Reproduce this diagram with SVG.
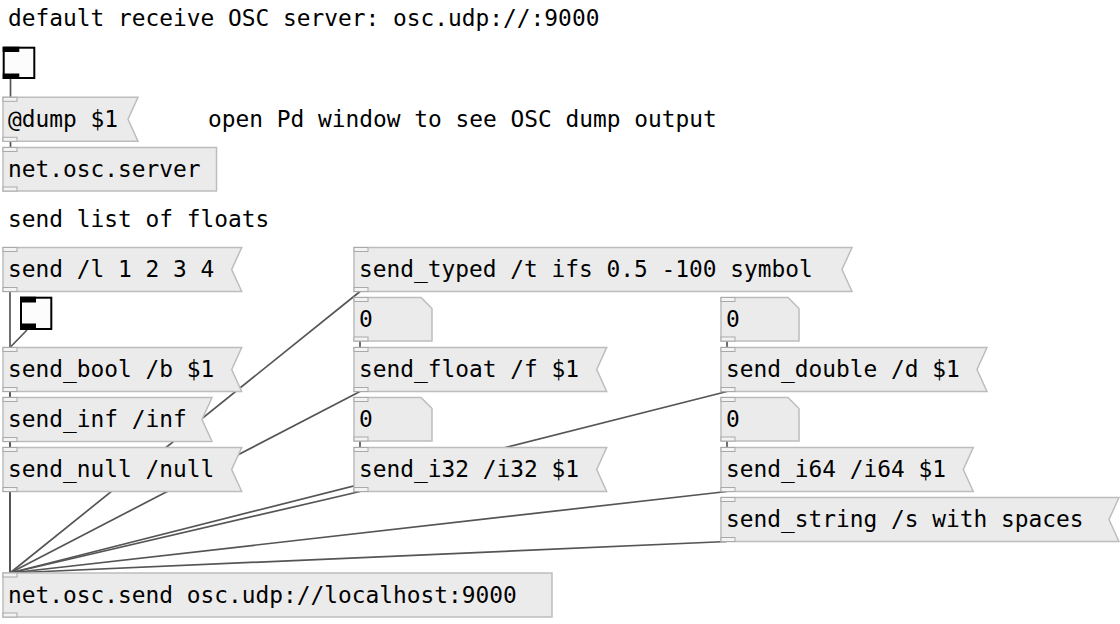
<svg xmlns="http://www.w3.org/2000/svg" width="1120" height="624" viewBox="0 0 1120 624">
<style>
.bg{fill:#ffffff}
.box{fill:#ebebeb;stroke:#bdbdbd;stroke-width:1.5}
.io{fill:#f3f3f3;stroke:#a9a9a9;stroke-width:1}
.tgl{fill:#fcfcfc;stroke:#000;stroke-width:2}
.tio{fill:#000}
.c{stroke:#555;stroke-width:1.7;fill:none}
text{font-family:"DejaVu Sans Mono","Liberation Mono",monospace;font-size:22.85px;fill:#000}
</style>
<rect class="bg" x="0" y="0" width="1120" height="624"/>
<g id="connectors">
<line class="c" x1="10.5" y1="79" x2="10.5" y2="97"/>
<line class="c" x1="10.5" y1="141" x2="10.5" y2="148"/>
<line class="c" x1="10" y1="291.5" x2="10" y2="573"/>
<line class="c" x1="10" y1="391.5" x2="10" y2="573"/>
<line class="c" x1="10" y1="441.5" x2="10" y2="573"/>
<line class="c" x1="10" y1="491.5" x2="10" y2="573"/>
<line class="c" x1="27" y1="330" x2="10" y2="347.5"/>
<line class="c" x1="360" y1="291.5" x2="10" y2="573"/>
<line class="c" x1="360" y1="341" x2="360" y2="347.5"/>
<line class="c" x1="360" y1="391.5" x2="10" y2="573"/>
<line class="c" x1="360" y1="441" x2="360" y2="447.5"/>
<line class="c" x1="360" y1="491.5" x2="10" y2="573"/>
<line class="c" x1="727" y1="341" x2="727" y2="347.5"/>
<line class="c" x1="727" y1="391.5" x2="10" y2="573"/>
<line class="c" x1="727" y1="441" x2="727" y2="447.5"/>
<line class="c" x1="727" y1="491.5" x2="10" y2="573"/>
<line class="c" x1="727" y1="541.5" x2="10" y2="573"/>
</g>
<g id="comment1"><text x="8" y="25.5">default receive OSC server: osc.udp://:9000</text></g>
<g id="comment2"><text x="208" y="126.5">open Pd window to see OSC dump output</text></g>
<g id="comment3"><text x="8" y="226.5">send list of floats</text></g>
<g id="toggle1">
<rect class="tgl" x="3.7" y="47.7" width="30.6" height="30.3"/>
<rect class="tio" x="2.7" y="46.7" width="16.6" height="5.3"/>
<rect class="tio" x="2.7" y="73.5" width="16.6" height="5.5"/>
</g>
<g id="msg_dump">
<path class="box" d="M3 97.3H138L128 119.3L138 141.3H3Z"/>
<rect class="io" x="3" y="97.3" width="14" height="4"/>
<rect class="io" x="3" y="137.3" width="14" height="4"/>
<text x="8" y="126.5">@dump $1</text>
</g>
<g id="obj_server">
<rect class="box" x="3" y="147.5" width="213.5" height="43.5"/>
<rect class="io" x="3" y="147.5" width="14" height="4"/>
<rect class="io" x="3" y="187" width="14" height="4"/>
<text x="8" y="177">net.osc.server</text>
</g>
<g id="msg_list">
<path class="box" d="M3 247.5H241.7L231.7 269.5L241.7 291.5H3Z"/>
<rect class="io" x="3" y="247.5" width="14" height="4"/>
<rect class="io" x="3" y="287.5" width="14" height="4"/>
<text x="8" y="277">send /l 1 2 3 4</text>
</g>
<g id="toggle2">
<rect class="tgl" x="21" y="297.7" width="30.3" height="31.3"/>
<rect class="tio" x="20" y="296.7" width="16" height="5.8"/>
<rect class="tio" x="20" y="323.5" width="16" height="6.5"/>
</g>
<g id="msg_bool">
<path class="box" d="M3 347.5H241.7L231.7 369.5L241.7 391.5H3Z"/>
<rect class="io" x="3" y="347.5" width="14" height="4"/>
<rect class="io" x="3" y="387.5" width="14" height="4"/>
<text x="8" y="377">send_bool /b $1</text>
</g>
<g id="msg_inf">
<path class="box" d="M3 397.5H212L202 419.5L212 441.5H3Z"/>
<rect class="io" x="3" y="397.5" width="14" height="4"/>
<rect class="io" x="3" y="437.5" width="14" height="4"/>
<text x="8" y="427">send_inf /inf</text>
</g>
<g id="msg_null">
<path class="box" d="M3 447.5H241.7L231.7 469.5L241.7 491.5H3Z"/>
<rect class="io" x="3" y="447.5" width="14" height="4"/>
<rect class="io" x="3" y="487.5" width="14" height="4"/>
<text x="8" y="477">send_null /null</text>
</g>
<g id="obj_send">
<rect class="box" x="3" y="573" width="549" height="44"/>
<rect class="io" x="3" y="573" width="14" height="4"/>
<rect class="io" x="3" y="613" width="14" height="4"/>
<text x="8" y="602.5">net.osc.send osc.udp://localhost:9000</text>
</g>
<g id="msg_typed">
<path class="box" d="M354 247.5H852L842 269.5L852 291.5H354Z"/>
<rect class="io" x="354" y="247.5" width="14" height="4"/>
<rect class="io" x="354" y="287.5" width="14" height="4"/>
<text x="359" y="277">send_typed /t ifs 0.5 -100 symbol</text>
</g>
<g id="num_f">
<path class="box" d="M354 297.5H421L432 308.5V341H354Z"/>
<rect class="io" x="354" y="297.5" width="14" height="4"/>
<rect class="io" x="354" y="337" width="14" height="4"/>
<text x="359" y="327">0</text>
</g>
<g id="msg_float">
<path class="box" d="M354 347.5H606.7L596.7 369.5L606.7 391.5H354Z"/>
<rect class="io" x="354" y="347.5" width="14" height="4"/>
<rect class="io" x="354" y="387.5" width="14" height="4"/>
<text x="359" y="377">send_float /f $1</text>
</g>
<g id="num_i32">
<path class="box" d="M354 397.5H421L432 408.5V441H354Z"/>
<rect class="io" x="354" y="397.5" width="14" height="4"/>
<rect class="io" x="354" y="437" width="14" height="4"/>
<text x="359" y="427">0</text>
</g>
<g id="msg_i32">
<path class="box" d="M354 447.5H606.7L596.7 469.5L606.7 491.5H354Z"/>
<rect class="io" x="354" y="447.5" width="14" height="4"/>
<rect class="io" x="354" y="487.5" width="14" height="4"/>
<text x="359" y="477">send_i32 /i32 $1</text>
</g>
<g id="num_d">
<path class="box" d="M721 297.5H788L799 308.5V341H721Z"/>
<rect class="io" x="721" y="297.5" width="14" height="4"/>
<rect class="io" x="721" y="337" width="14" height="4"/>
<text x="726" y="327">0</text>
</g>
<g id="msg_double">
<path class="box" d="M721 347.5H987L977 369.5L987 391.5H721Z"/>
<rect class="io" x="721" y="347.5" width="14" height="4"/>
<rect class="io" x="721" y="387.5" width="14" height="4"/>
<text x="726" y="377">send_double /d $1</text>
</g>
<g id="num_i64">
<path class="box" d="M721 397.5H788L799 408.5V441H721Z"/>
<rect class="io" x="721" y="397.5" width="14" height="4"/>
<rect class="io" x="721" y="437" width="14" height="4"/>
<text x="726" y="427">0</text>
</g>
<g id="msg_i64">
<path class="box" d="M721 447.5H973.3L963.3 469.5L973.3 491.5H721Z"/>
<rect class="io" x="721" y="447.5" width="14" height="4"/>
<rect class="io" x="721" y="487.5" width="14" height="4"/>
<text x="726" y="477">send_i64 /i64 $1</text>
</g>
<g id="msg_string">
<path class="box" d="M721 497.5H1119L1109 519.5L1119 541.5H721Z"/>
<rect class="io" x="721" y="497.5" width="14" height="4"/>
<rect class="io" x="721" y="537.5" width="14" height="4"/>
<text x="726" y="527">send_string /s with spaces</text>
</g>
</svg>
